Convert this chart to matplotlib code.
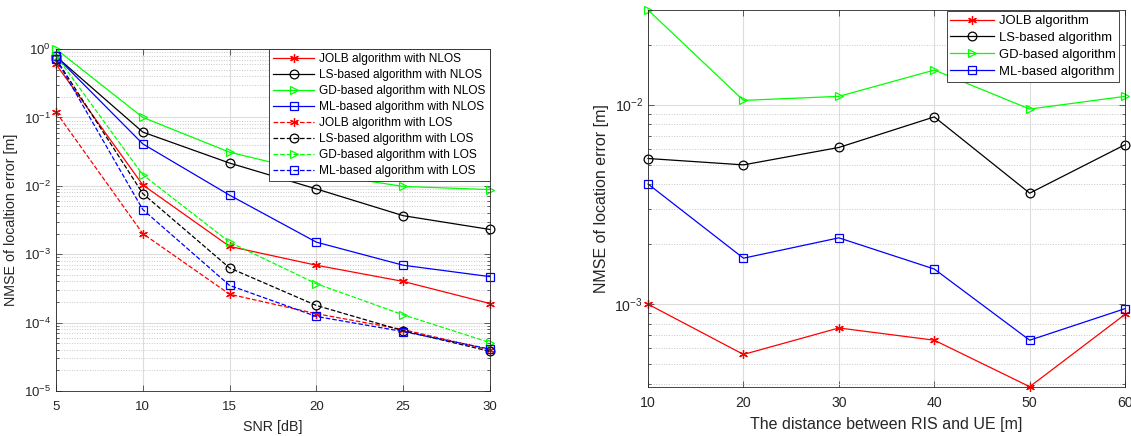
import matplotlib
matplotlib.use("Agg")
import matplotlib.pyplot as plt
import numpy as np

plt.rcParams["font.family"] = ["Liberation Sans", "DejaVu Sans"]

# Left panel: NMSE versus SNR
snr = [5, 10, 15, 20, 25, 30]
jolb_nlos = [0.60, 0.0103, 0.0013, 6.9e-4, 4.0e-4, 1.9e-4]
ls_nlos = [0.78, 0.061, 0.0215, 0.009, 0.00366, 0.0023]
gd_nlos = [1.0, 0.10, 0.031, 0.0153, 0.0098, 0.0088]
ml_nlos = [0.78, 0.041, 0.0073, 0.0015, 6.9e-4, 4.7e-4]
jolb_los = [0.12, 0.0020, 2.6e-4, 1.35e-4, 7.9e-5, 4.0e-5]
ls_los = [0.72, 0.0077, 6.3e-4, 1.78e-4, 7.6e-5, 3.8e-5]
gd_los = [0.80, 0.0145, 0.0015, 3.7e-4, 1.3e-4, 5.1e-5]
ml_los = [0.72, 0.0045, 3.5e-4, 1.23e-4, 7.4e-5, 4.1e-5]

# Right panel: NMSE versus RIS-UE distance
dist = [10, 20, 30, 40, 50, 60]
jolb_d = [1.0e-3, 5.6e-4, 7.6e-4, 6.6e-4, 3.86e-4, 8.9e-4]
ls_d = [5.37e-3, 4.99e-3, 6.1e-3, 8.68e-3, 3.6e-3, 6.3e-3]
gd_d = [0.0298, 0.0105, 0.011, 0.0149, 0.0095, 0.011]
ml_d = [4.0e-3, 1.7e-3, 2.15e-3, 1.5e-3, 6.6e-4, 9.5e-4]

asterisk = (6, 2, 0)
ink = "#262626"


def style_axes(ax, size):
    """MATLAB-like look: box, inward ticks, light grid"""
    ax.set_yscale("log")
    ax.tick_params(which="both", direction="in", top=True, right=True,
                   labelsize=size, colors=ink, width=0.5)
    ax.tick_params(which="major", length=4)
    ax.tick_params(which="minor", length=2)
    ax.tick_params(axis="x", pad=7)
    for s in ax.spines.values():
        s.set_linewidth(0.6)
        s.set_color(ink)
    ax.grid(True, which="major", color="#dcdcdc", linewidth=0.8, linestyle="-")
    ax.grid(True, which="minor", axis="y", color="#c8c8c8", linewidth=0.7,
            linestyle=":")
    ax.set_axisbelow(True)


fig = plt.figure(figsize=(11.31, 4.36), dpi=100)

ax1 = fig.add_axes([0.0495, 0.1032, 0.3837, 0.7844])
kw = dict(linewidth=0.9, markersize=6.3, markerfacecolor="none",
          markeredgewidth=0.9, clip_on=False)
ax1.plot(snr, jolb_nlos, color="r", marker=asterisk, label="JOLB algorithm with NLOS", **kw)
ax1.plot(snr, ls_nlos, color="k", marker="o", label="LS-based algorithm with NLOS", **kw)
ax1.plot(snr, gd_nlos, color="#00ff00", marker=">", label="GD-based algorithm with NLOS", **kw)
ax1.plot(snr, ml_nlos, color="b", marker="s", label="ML-based algorithm with NLOS", **kw)
ax1.plot(snr, jolb_los, color="r", ls="--", marker=asterisk, label="JOLB algorithm with LOS", **kw)
ax1.plot(snr, ls_los, color="k", ls="--", marker="o", label="LS-based algorithm with LOS", **kw)
ax1.plot(snr, gd_los, color="#00ff00", ls="--", marker=">", label="GD-based algorithm with LOS", **kw)
ax1.plot(snr, ml_los, color="b", ls="--", marker="s", label="ML-based algorithm with LOS", **kw)
style_axes(ax1, 9.5)
ax1.set_xlim(5, 30)
ax1.set_ylim(1e-5, 1)
ax1.set_xticks(snr)
ax1.set_xlabel("SNR [dB]", fontsize=10.3, color=ink, labelpad=5)
ax1.set_ylabel("NMSE of localtion error [m]", fontsize=10.3, color=ink, labelpad=4)
leg1 = ax1.legend(loc="upper right", fontsize=8.6, handlelength=3.4, borderaxespad=0,
                  fancybox=False, edgecolor=ink, framealpha=1,
                  labelspacing=0.33, borderpad=0.35, handletextpad=0.45)
leg1.get_frame().set_linewidth(0.6)

ax2 = fig.add_axes([0.573, 0.1131, 0.4218, 0.864])
ax2.plot(dist, jolb_d, color="r", marker=asterisk, label="JOLB algorithm", **kw)
ax2.plot(dist, ls_d, color="k", marker="o", label="LS-based algorithm", **kw)
ax2.plot(dist, gd_d, color="#00ff00", marker=">", label="GD-based algorithm", **kw)
ax2.plot(dist, ml_d, color="b", marker="s", label="ML-based algorithm", **kw)
style_axes(ax2, 10.2)
ax2.set_xlim(10, 60)
ax2.set_ylim(min(jolb_d), max(gd_d))
ax2.set_xticks(dist)
ax2.set_xlabel("The distance between RIS and UE [m]", fontsize=11.5, color=ink, labelpad=5)
ax2.set_ylabel("NMSE of location error [m]", fontsize=11.5, color=ink, labelpad=4)
leg2 = ax2.legend(loc="upper right", fontsize=9.4, handlelength=3.3,
                  bbox_to_anchor=(0.988, 0.997), borderaxespad=0,
                  fancybox=False, edgecolor=ink, framealpha=1,
                  labelspacing=0.36, borderpad=0.3, handletextpad=0.4)
leg2.get_frame().set_linewidth(0.6)

fig.savefig("out.png", dpi=100)
